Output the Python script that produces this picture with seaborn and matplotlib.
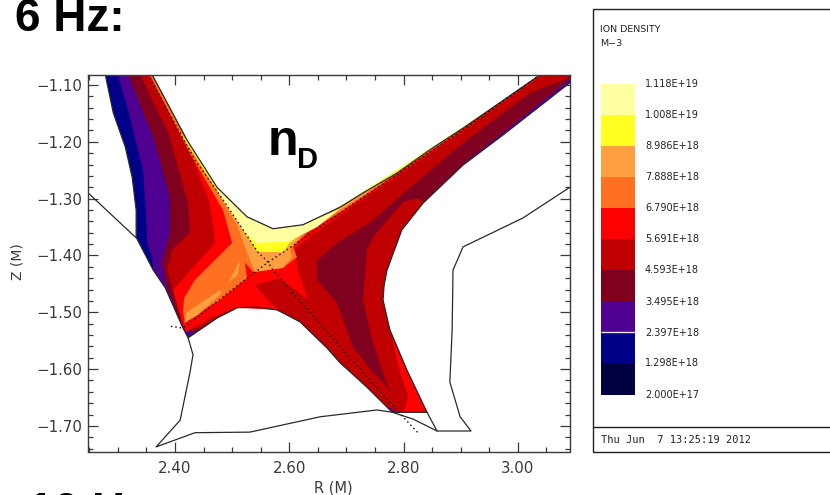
import matplotlib
matplotlib.use("Agg")
import matplotlib.pyplot as plt
from matplotlib.colors import BoundaryNorm, ListedColormap
from matplotlib.lines import Line2D
from matplotlib.patches import Rectangle
import numpy as np
import seaborn as sns

W, H = 830, 495

# contour bands, lowest level to highest
band_colors = ["#000040", "#000088", "#500090", "#800020", "#C00000",
               "#FF0000", "#FF7020", "#FFA040", "#FFFF20", "#FFFFA0"]
level_labels = ["1.118E+19", "1.008E+19", "8.986E+18", "7.888E+18", "6.790E+18",
                "5.691E+18", "4.593E+18", "3.495E+18", "2.397E+18", "1.298E+18", "2.000E+17"]
level_values = [1.118e19, 1.008e19, 8.986e18, 7.888e18, 6.790e18,
                5.691e18, 4.593e18, 3.495e18, 2.397e18, 1.298e18, 2.0e17]
x_ticks = [2.40, 2.60, 2.80, 3.00]
y_ticks = [-1.10, -1.20, -1.30, -1.40, -1.50, -1.60, -1.70]

# plasma grid boundary (R, Z)
upper_r = [2.360, 2.421, 2.4735, 2.526, 2.5715, 2.624, 2.689, 2.729, 2.7885, 2.846, 2.904, 3.039]
upper_z = [-1.082, -1.197, -1.280, -1.332, -1.353, -1.346, -1.315, -1.290, -1.255, -1.214, -1.176, -1.082]
left_r = [2.278, 2.292, 2.313, 2.325, 2.332, 2.332]
left_z = [-1.082, -1.149, -1.209, -1.262, -1.320, -1.368]
low_left_r = [2.362, 2.383]
low_left_z = [-1.426, -1.457]
tip_r = [2.414, 2.423]
tip_z = [-1.528, -1.545]
bottom_r = [2.474, 2.509, 2.544, 2.579, 2.619, 2.666, 2.689, 2.736]
bottom_z = [-1.510, -1.492, -1.491, -1.496, -1.517, -1.563, -1.589, -1.632]
foot_r = [2.780, 2.841]
foot_z = [-1.676, -1.676]
right_r = [2.806, 2.776, 2.764, 2.766, 2.771, 2.797, 2.834]
right_z = [-1.602, -1.531, -1.478, -1.452, -1.426, -1.355, -1.308]
outer_r = [2.904, 2.974, 3.091, 3.091]
outer_z = [-1.241, -1.188, -1.096, -1.082]
# lower side of the bands above the purple one, in the upper right leg
wedge_r = [2.904, 2.974, 3.091, 3.091]
wedge_z = [-1.238, -1.183, -1.089, -1.082]
foot2_r = [2.7675, 2.7885, 2.841]
foot2_z = [-1.663, -1.676, -1.676]

# band edges (R, Z)
purple_r = [2.300, 2.318, 2.344, 2.351, 2.351, 2.360]
purple_z = [-1.082, -1.144, -1.250, -1.355, -1.378, -1.403]
maroon_r = [2.318, 2.362, 2.391, 2.391, 2.377, 2.386, 2.416, 2.437]
maroon_z = [-1.082, -1.192, -1.297, -1.360, -1.413, -1.457, -1.531, -1.535]
crimson_r = [2.339, 2.388, 2.423, 2.426, 2.395, 2.386, 2.3965, 2.414, 2.440]
crimson_z = [-1.082, -1.184, -1.308, -1.360, -1.390, -1.426, -1.461, -1.528, -1.529]
leg_r = [3.088, 3.021, 2.904, 2.8165, 2.7465, 2.6835, 2.6485, 2.6485, 2.6835, 2.7115, 2.7465, 2.764,
         2.778, 2.764, 2.745, 2.729, 2.736, 2.7465, 2.799, 2.825, 2.834]
leg_z = [-1.088, -1.114, -1.202, -1.276, -1.338, -1.378, -1.408, -1.443, -1.484, -1.561, -1.607, -1.623,
         -1.642, -1.607, -1.549, -1.478, -1.390, -1.368, -1.306, -1.299, -1.308]
red_r = [2.351, 2.421, 2.461, 2.470, 2.3965, 2.414, 2.419, 2.465, 2.5085, 2.5785, 2.540, 2.584, 2.633,
         2.615, 2.610, 2.6135, 2.636, 2.671, 2.729, 2.846, 2.904, 3.004, 3.044]
red_z = [-1.082, -1.202, -1.308, -1.378, -1.461, -1.522, -1.535, -1.508, -1.492, -1.496, -1.452, -1.440, -1.478,
         -1.426, -1.390, -1.385, -1.368, -1.341, -1.301, -1.221, -1.181, -1.109, -1.082]
red_leg_r = [2.780, 2.790, 2.808, 2.801, 2.841, 2.806]
red_leg_z = [-1.545, -1.593, -1.646, -1.676, -1.676, -1.602]
orange_r = [2.356, 2.426, 2.4665, 2.484, 2.500, 2.467, 2.435, 2.416, 2.414, 2.4175, 2.479, 2.526, 2.5225, 2.5365, 2.589, 2.6135,
            2.6065, 2.631, 2.689, 2.729, 2.904, 3.039]
orange_z = [-1.082, -1.220, -1.290, -1.320, -1.378, -1.411, -1.443, -1.475, -1.500, -1.517, -1.478, -1.440, -1.413, -1.429, -1.422, -1.403,
            -1.385, -1.360, -1.324, -1.297, -1.177, -1.084]
light_r = [2.360, 2.4315, 2.482, 2.5085, 2.531, 2.540, 2.589, 2.605, 2.601, 2.631, 2.689, 2.729, 2.904, 3.039]
light_z = [-1.082, -1.214, -1.302, -1.346, -1.408, -1.429, -1.422, -1.403, -1.390, -1.352, -1.320, -1.294, -1.176, -1.082]
light_b_r = [2.416, 2.421, 2.479, 2.482, 2.440]
light_b_z = [-1.519, -1.500, -1.461, -1.466, -1.505]
light_c_r = [2.493, 2.514, 2.510]
light_c_z = [-1.448, -1.408, -1.434]
yellow_r = [2.409, 2.4525, 2.4875, 2.519, 2.545, 2.589, 2.601, 2.6485, 2.7115, 2.794, 2.904, 3.021, 3.039]
yellow_z = [-1.184, -1.253, -1.306, -1.355, -1.394, -1.394, -1.378, -1.338, -1.299, -1.246, -1.174, -1.095, -1.082]
pale_r = [2.4665, 2.4875, 2.5225, 2.542, 2.598, 2.6485, 2.689]
pale_z = [-1.269, -1.308, -1.359, -1.378, -1.376, -1.350, -1.318]

# vessel wall
wall_a_r = [2.248, 2.332]
wall_a_z = [-1.290, -1.369]
wall_b_r = [2.423, 2.4315, 2.426, 2.409, 2.367, 2.435, 2.531, 2.654, 2.7535, 2.780, 2.8165, 2.8585, 2.841]
wall_b_z = [-1.545, -1.575, -1.607, -1.690, -1.737, -1.712, -1.711, -1.684, -1.672, -1.676, -1.688, -1.709, -1.676]
wall_c_r = [2.8585, 2.918, 2.899, 2.881, 2.885, 2.8865, 2.904, 3.009, 3.091]
wall_c_z = [-1.709, -1.709, -1.684, -1.623, -1.531, -1.426, -1.385, -1.334, -1.280]

# separatrix
sep_a_r = [2.356, 2.435, 2.484, 2.545, 2.563, 2.5715, 2.771, 2.825]
sep_a_z = [-1.088, -1.232, -1.302, -1.394, -1.412, -1.426, -1.654, -1.712]
sep_b_r = [3.039, 2.904, 2.689, 2.596, 2.563, 2.526, 2.414, 2.388]
sep_b_z = [-1.082, -1.179, -1.325, -1.390, -1.412, -1.440, -1.528, -1.524]

sns.set_theme(style="white", rc={"font.family": "DejaVu Sans", "axes.unicode_minus": True})
INK = "#3a3a3a"

fig = plt.figure(figsize=(W / 100, H / 100), dpi=100)


def box(x0, y0, x1, y1):
	return [x0 / W, 1 - y1 / H, (x1 - x0) / W, (y1 - y0) / H]


def txt(x, y, s, **kw):
	fig.text(x / W, 1 - y / H, s, **kw)


ax = fig.add_axes(box(88, 75, 570, 451.5))


def band(color, r, z):
	# close a band along the upper edge of the grid
	upper = [(a, b) for a, b in zip(upper_r, upper_z) if r[0] < a < r[-1]]
	pts_r = list(r) + [p[0] for p in upper[::-1]]
	pts_z = list(z) + [p[1] for p in upper[::-1]]
	ax.fill(pts_r, pts_z, color=color, lw=0)


bottom_tail_r = bottom_r + foot2_r + right_r + wedge_r
bottom_tail_z = bottom_z + foot2_z + right_z + wedge_z

band(band_colors[1], left_r + low_left_r + tip_r + bottom_r + foot_r + right_r + outer_r,
     left_z + low_left_z + tip_z + bottom_z + foot_z + right_z + outer_z)
band(band_colors[2], purple_r + low_left_r + tip_r + bottom_r + foot_r + right_r + outer_r,
     purple_z + low_left_z + tip_z + bottom_z + foot_z + right_z + outer_z)
band(band_colors[3], maroon_r + bottom_tail_r, maroon_z + bottom_tail_z)
band(band_colors[4], crimson_r + bottom_tail_r, crimson_z + bottom_tail_z)
ax.fill(leg_r + wedge_r, leg_z + wedge_z, color=band_colors[3], lw=0)
band(band_colors[5], red_r, red_z)
ax.fill(red_leg_r, red_leg_z, color=band_colors[5], lw=0)
band(band_colors[6], orange_r, orange_z)
band(band_colors[7], light_r, light_z)
ax.fill(light_b_r, light_b_z, color=band_colors[7], lw=0)
ax.fill(light_c_r, light_c_z, color=band_colors[7], lw=0)
band(band_colors[8], yellow_r, yellow_z)
band(band_colors[9], pale_r, pale_z)

# grid outline and wall
outline_r = left_r + low_left_r + tip_r + bottom_r + foot_r + right_r + outer_r[:3]
outline_z = left_z + low_left_z + tip_z + bottom_z + foot_z + right_z + outer_z[:3]
for r, z in [(outline_r, outline_z), (upper_r, upper_z), (wall_a_r, wall_a_z), (wall_b_r, wall_b_z), (wall_c_r, wall_c_z)]:
	sns.lineplot(x=r, y=z, sort=False, estimator=None, color="#2a2a2a", lw=0.9, ax=ax)
for r, z in [(sep_a_r, sep_a_z), (sep_b_r, sep_b_z)]:
	sns.lineplot(x=r, y=z, sort=False, estimator=None, color="black", lw=1.0, linestyle=(0, (1, 2.2)), ax=ax)

ax.set_xlim(2.24775, 3.09125)
ax.set_ylim(-1.7451, -1.0824)
ax.set_xticks(x_ticks)
ax.set_yticks(y_ticks)
ax.set_xticklabels([f"{t:.2f}" for t in x_ticks])
ax.set_yticklabels([f"\u2212{abs(t):.2f}" for t in y_ticks])
ax.set_xticks(np.arange(2.25, 3.09, 0.05), minor=True)
ax.set_yticks(np.arange(-1.74, -1.08, 0.02), minor=True)
ax.tick_params(which="major", direction="in", length=7.2, width=0.9, color=INK, top=True, right=True,
               bottom=True, left=True, labelsize=10.8, labelcolor=INK)
ax.tick_params(which="minor", direction="in", length=3.6, width=0.9, color=INK, top=True, right=True,
               bottom=True, left=True)
ax.tick_params(axis="x", which="major", pad=7)
ax.tick_params(axis="y", which="major", pad=4)
for s in ax.spines.values():
	s.set_color(INK)
	s.set_linewidth(1.0)
ax.set_xlabel("")
ax.set_ylabel("")

txt(333, 488, "R (M)", fontsize=10.5, color=INK, ha="center", va="center")
txt(17, 262, "Z (M)", fontsize=10, color=INK, ha="center", va="center", rotation=90)

# slide text
bold = dict(family="Liberation Sans", fontweight="bold", color="black")
txt(15, 31, "6 Hz:", fontsize=33, ha="left", va="baseline", **bold)
txt(28, 525, "10 Hz:", fontsize=33, ha="left", va="baseline", **bold)
txt(268, 155, "n", fontsize=36, ha="left", va="baseline", **bold)
txt(297, 168, "D", fontsize=21, ha="left", va="baseline", **bold)

# legend panel
fig.add_artist(Rectangle((593 / W, 1 - 452 / H), 300 / W, (452 - 8.5) / H, fill=False, ec="#222222", lw=1.0,
                         transform=fig.transFigure))
fig.add_artist(Line2D([593 / W, 1], [1 - 427 / H, 1 - 427 / H], color="#222222", lw=1.0, transform=fig.transFigure))

cax = fig.add_axes(box(601, 84, 635, 394.5))
cell_values = np.array(level_values[1:]).reshape(-1, 1)
sns.heatmap(cell_values, ax=cax, cbar=False, cmap=ListedColormap(band_colors), xticklabels=False,
            yticklabels=False, norm=BoundaryNorm(level_values[::-1], 10))
cax.hlines(8, 0, 1, color="#E8E8F0", lw=1.0)

level_y = [84, 115, 146, 177, 208, 239, 270, 302, 333, 363, 395]
for ly, lab in zip(level_y, level_labels):
	txt(645, ly, lab, fontsize=7, color="#222222", ha="left", va="center")
txt(600, 30, "ION DENSITY", fontsize=6.8, color="#222222", ha="left", va="center")
txt(600, 43, "M\u22123", fontsize=6.8, color="#222222", ha="left", va="center")
txt(601, 440, "Thu Jun  7 13:25:19 2012", fontsize=7.5, family="DejaVu Sans Mono", color="#222222", ha="left", va="center")

fig.savefig("out.png", dpi=100)
